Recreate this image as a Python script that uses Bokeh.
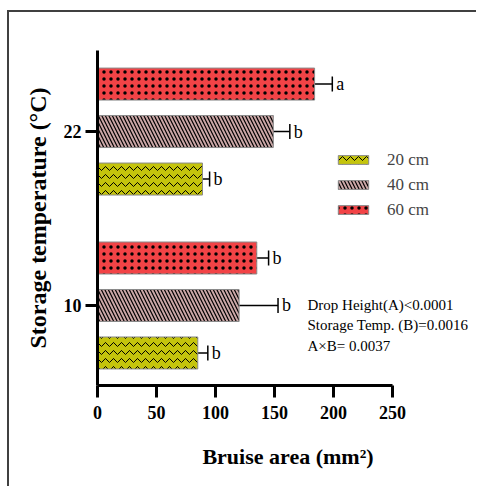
from bokeh.plotting import figure
from bokeh.models import (Range1d, FixedTicker, ColumnDataSource, Whisker, TeeHead,
                          Legend, LegendItem, Label)
from bokeh.core.properties import value
from bokeh.embed import file_html
from bokeh.resources import INLINE

# ---- data ----
temps = ["10", "22"]
heights = ["20 cm", "40 cm", "60 cm"]
area_20 = [85, 89]
area_40 = [120, 149]
area_60 = [135, 184]
sd_20 = [8.5, 6]
sd_40 = [33, 14]
sd_60 = [10, 15]
letters_20 = ["b", "b"]
letters_40 = ["b", "b"]
letters_60 = ["b", "a"]
x_ticks = [0, 50, 100, 150, 200, 250]
stats_lines = ["Drop Height(A)<0.0001", "Storage Temp. (B)=0.0016", "A\u00d7B= 0.0037"]

SERIF = "Liberation Serif"

p = figure(width=469, height=476, x_range=Range1d(0, 322.9), y_range=Range1d(0.54, 2.466),
           output_backend="svg", toolbar_location=None,
           min_border_left=88, min_border_right=0, min_border_top=38, min_border_bottom=103,
           margin=(10, 0, 0, 7),
           styles={"border-left": "2px solid #404040", "border-top": "2px solid #404040"})
p.xgrid.visible = False
p.ygrid.visible = False
p.outline_line_color = None
p.background_fill_color = "white"
p.border_fill_color = "white"

series = [
    ("20 cm", area_20, sd_20, letters_20, -0.273, "#c4c40c", "horizontal_wave", 8, 1.0),
    ("40 cm", area_40, sd_40, letters_40, 0.0, "#caa6a6", "left_diagonal_line", 7, 1.2),
    ("60 cm", area_60, sd_60, letters_60, 0.273, "#f24346", "dot", 7, 0.8),
]

items = []
for name, vals, sds, lets, off, color, hatch, hscale, hweight in series:
    ypos = [i + 1 + off for i in range(len(temps))]
    src = ColumnDataSource(dict(
        y=ypos, v=vals,
        lower=[v - s for v, s in zip(vals, sds)],
        upper=[v + s for v, s in zip(vals, sds)],
        letter=lets))
    r = p.hbar(y="y", left=0, right="v", height=0.184, source=src,
               fill_color=color, line_color="#8a8a8a", line_width=1,
               hatch_pattern=hatch, hatch_color="black", hatch_scale=hscale,
               hatch_weight=hweight)
    w = Whisker(base="y", lower="lower", upper="upper", dimension="width", source=src,
                line_color="black", line_width=1.5,
                lower_head=TeeHead(size=15, line_width=1.5, line_color="black"),
                upper_head=TeeHead(size=15, line_width=1.5, line_color="black"))
    p.add_layout(w)
    p.text(x="upper", y="y", text="letter", source=src, x_offset=4,
           text_baseline="middle", text_align="left",
           text_font=value(SERIF), text_font_size="18px", text_color="black")
    items.append(LegendItem(label=name, renderers=[r]))

legend = Legend(items=items, location=(237, 165), glyph_width=38, glyph_height=11,
                label_height=21, spacing=4, padding=0, margin=0, label_standoff=15,
                label_text_font=SERIF, label_text_font_size="17px",
                border_line_color=None, background_fill_alpha=0)
p.add_layout(legend)

for i, line in enumerate(stats_lines):
    p.add_layout(Label(x=210, y=81 - 20.5 * i, x_units="screen", y_units="screen",
                       text=line, text_font=SERIF, text_font_size="15px",
                       text_baseline="middle", text_color="black"))

for ax in (p.xaxis[0], p.yaxis[0]):
    ax.axis_line_width = 3
    ax.axis_line_color = "black"
    ax.major_tick_line_width = 3
    ax.major_tick_line_color = "black"
    ax.major_tick_in = 0
    ax.major_tick_out = 12
    ax.minor_tick_line_color = None
    ax.major_label_text_font = SERIF
    ax.major_label_text_font_style = "bold"
    ax.major_label_text_font_size = "18px"
    ax.major_label_text_color = "black"
    ax.axis_label_text_font = SERIF
    ax.axis_label_text_font_style = "bold"
    ax.axis_label_text_color = "black"

p.xaxis.ticker = FixedTicker(ticks=x_ticks)
p.xaxis.bounds = (0, 250)
p.xaxis.major_label_standoff = 8
p.xaxis.axis_label = "Bruise area (mm\u00b2)"
p.xaxis.axis_label_text_font_size = "22px"
p.xaxis.axis_label_standoff = 22

p.yaxis.ticker = FixedTicker(ticks=[1, 2])
p.yaxis.major_label_overrides = {i + 1: t for i, t in enumerate(temps)}
p.yaxis.major_label_standoff = 4
p.yaxis.axis_label = "Storage temperature (\u00b0C)"
p.yaxis.axis_label_text_font_size = "24px"
p.yaxis.axis_label_standoff = 10

open("out.html", "w").write(file_html(p, INLINE))
